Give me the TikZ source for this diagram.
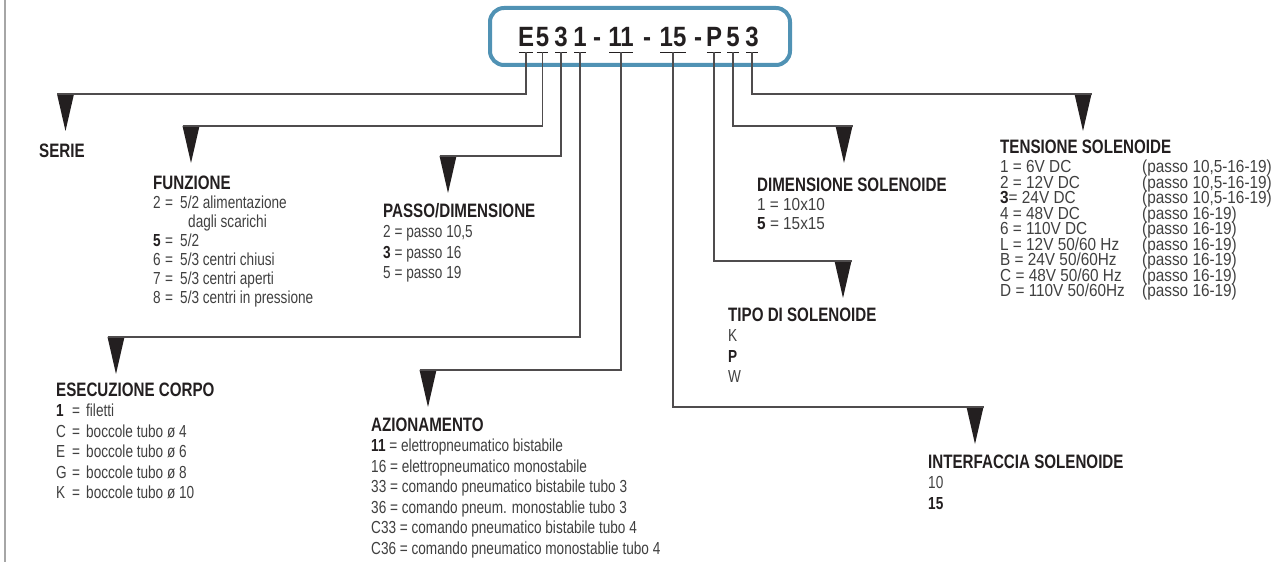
\documentclass[tikz,border=0pt]{standalone}
\usepackage{fontspec}
\setmainfont{Liberation Sans}[FakeStretch=0.78]
\newfontfamily\codefont{Liberation Sans}[FakeStretch=0.86]
\newfontfamily\widefont{Liberation Sans}[FakeStretch=0.88]
\usepackage{xcolor}

\definecolor{frameblue}{RGB}{80,146,180}
\definecolor{ink}{RGB}{35,31,32}
\definecolor{bodygray}{RGB}{64,64,64}

\newcommand{\blocktitle}[1]{\leavevmode{\fontsize{19.5}{20}\selectfont\rmfamily\bfseries\color{ink}#1}}
\newcommand{\sel}[1]{\leavevmode{\bfseries\color{ink}#1}}

\begin{document}
\begin{tikzpicture}[
    x=1bp, y=-1bp,
    frame/.style={draw=frameblue, line width=4bp, rounded corners=14bp, minimum width=300bp, minimum height=57bp},
    char/.style={font=\fontsize{28}{30}\codefont\bfseries, text=ink, anchor=base, inner xsep=-1bp, inner ysep=5bp, text depth=0pt},
    uline/.style={draw=ink, line width=1.2bp},
    link/.style={draw=ink!80, line width=1.3bp},
    info/.style={anchor=base west, inner sep=0pt, text=bodygray, font=\fontsize{17.5}{20.5}\selectfont},
    row/.style={info, font=\fontsize{17.5}{19}\widefont},
    pics/drop/.style={code={\fill[ink] (-8.5,0) -- (8.5,0) -- (0,37) -- cycle;}}
]
\useasboundingbox (0,0) rectangle (1272,562);
\draw[gray!70, line width=2bp] (5,0) -- (5,562);

\node[frame] (codebox) at (640,36.5) {};
\node[char] (serieCh) at (526,47) {E};
\node[char] (funzCh) at (542.5,47) {5};
\node[char] (passoCh) at (561,47) {3};
\node[char] (corpoCh) at (580,47) {1};
\node[char] (dashA) at (597,47) {-};
\node[char] (azionCh) at (621,47) {11};
\node[char] (dashB) at (647,47) {-};
\node[char] (interfCh) at (673,47) {15};
\node[char] (dashC) at (698,47) {-};
\node[char] (tipoCh) at (714,47) {P};
\node[char] (dimCh) at (733,47) {5};
\node[char] (tensCh) at (752,47) {3};
\foreach \c in {serieCh,funzCh,passoCh,corpoCh,azionCh,interfCh,tipoCh,dimCh,tensCh}
    \draw[uline] (\c.south west) -- (\c.south east);

\coordinate (serieTip) at (65.5,94);
\coordinate (funzTip) at (191,126);
\coordinate (passoTip) at (448,156);
\coordinate (corpoTip) at (116,337);
\coordinate (azionTip) at (428,370);
\coordinate (interfTip) at (975,407);
\coordinate (tipoTip) at (843,261);
\coordinate (dimTip) at (844,126);
\coordinate (tensTip) at (1083,94);
\foreach \t in {serieTip,funzTip,passoTip,corpoTip,azionTip,interfTip,tipoTip,dimTip,tensTip}
    \pic at (\t) {drop};

\draw[link] (serieCh.south) |- ([xshift=-8.5bp]serieTip);
\draw[link] (funzCh.south) |- ([xshift=-8.5bp]funzTip);
\draw[link] (passoCh.south) |- ([xshift=-8.5bp]passoTip);
\draw[link] (corpoCh.south) |- ([xshift=-8.5bp]corpoTip);
\draw[link] (azionCh.south) |- ([xshift=-8.5bp]azionTip);
\draw[link] (interfCh.south) |- ([xshift=8.5bp]interfTip);
\draw[link] (tipoCh.south) |- ([xshift=8.5bp]tipoTip);
\draw[link] (dimCh.south) |- ([xshift=8.5bp]dimTip);
\draw[link] (tensCh.south) |- ([xshift=8.5bp]tensTip);

\node[info] (serie) at (39,158) {\blocktitle{SERIE}};

\node[info, font=\fontsize{17.5}{19}\selectfont] (funzione) at (153,190) {\begin{tabular}[t]{@{}p{12bp}@{}p{15bp}@{}l@{}}
\multicolumn{3}{@{}l@{}}{\blocktitle{FUNZIONE}}\\
2 & = & 5/2 alimentazione\\
 & & \hspace{8bp}dagli scarichi\\
\sel{5} & = & 5/2\\
6 & = & 5/3 centri chiusi\\
7 & = & 5/3 centri aperti\\
8 & = & 5/3 centri in pressione
\end{tabular}};

\node[info] (passo) at (383,217.5) {\begin{tabular}[t]{@{}l@{}}
\blocktitle{PASSO/DIMENSIONE}\\
2 = passo 10,5\\
\sel{3} = passo 16\\
5 = passo 19
\end{tabular}};

\node[info] (corpo) at (56,396.5) {\begin{tabular}[t]{@{}p{16bp}@{}p{14bp}@{}l@{}}
\multicolumn{3}{@{}l@{}}{\blocktitle{ESECUZIONE CORPO}}\\
\sel{1} & = & filetti\\
C & = & boccole tubo ø 4\\
E & = & boccole tubo ø 6\\
G & = & boccole tubo ø 8\\
K & = & boccole tubo ø 10
\end{tabular}};

\node[info] (azionamento) at (371,431.5) {\begin{tabular}[t]{@{}l@{}}
\blocktitle{AZIONAMENTO}\\
\sel{11} = elettropneumatico bistabile\\
16 = elettropneumatico monostabile\\
33 = comando pneumatico bistabile tubo 3\\
36 = comando pneum. monostablie tubo 3\\
C33 = comando pneumatico bistabile tubo 4\\
C36 = comando pneumatico monostablie tubo 4
\end{tabular}};

\node[row] (dimensione) at (757,191.5) {\begin{tabular}[t]{@{}l@{}}
\blocktitle{DIMENSIONE SOLENOIDE}\\
1 = 10x10\\
\sel{5} = 15x15
\end{tabular}};

\node[info] (tipo) at (728,321.5) {\begin{tabular}[t]{@{}l@{}}
\blocktitle{TIPO DI SOLENOIDE}\\
K\\
\sel{P}\\
W
\end{tabular}};

\node[info] (interfaccia) at (928,468.5) {\begin{tabular}[t]{@{}l@{}}
\blocktitle{INTERFACCIA SOLENOIDE}\\
10\\
\sel{15}
\end{tabular}};

\node[info] (tensione) at (1000,153.5) {\blocktitle{TENSIONE SOLENOIDE}};
\foreach \volt/\pitch [count=\i from 0] in {
    {1 = 6V DC}/{(passo 10,5-16-19)},
    {2 = 12V DC}/{(passo 10,5-16-19)},
    {\sel{3}= 24V DC}/{(passo 10,5-16-19)},
    {4 = 48V DC}/{(passo 16-19)},
    {6 = 110V DC}/{(passo 16-19)},
    {L = 12V 50/60 Hz}/{(passo 16-19)},
    {B = 24V 50/60Hz}/{(passo 16-19)},
    {C = 48V 50/60 Hz}/{(passo 16-19)},
    {D = 110V 50/60Hz}/{(passo 16-19)}}{
    \node[row] (tensV\i) at (1000,173+15.5*\i) {\volt};
    \node[row] (tensP\i) at (1142,173+15.5*\i) {\pitch};
}
\end{tikzpicture}
\end{document}
